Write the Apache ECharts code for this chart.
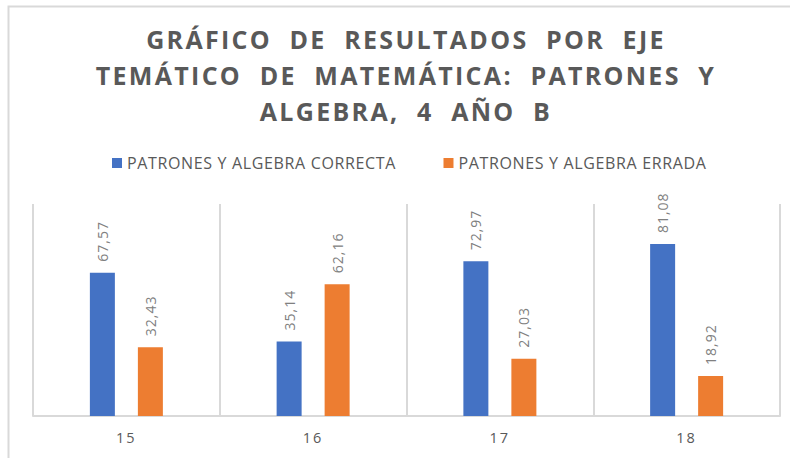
<!DOCTYPE html>
<html>
<head>
<meta charset="utf-8">
<script src="https://cdn.jsdelivr.net/npm/echarts@6/dist/echarts.min.js"></script>
<style>
html,body{margin:0;padding:0;background:#fff;}
#c{width:790px;height:458px;}
#c text[style*="25px"]{letter-spacing:2.3px;}
#c text[style*="14.5px"]{letter-spacing:2px;}
#c text[style*="16px"]{letter-spacing:0.65px;}
#c text[style*="14px"]{letter-spacing:1px;}
</style>
</head>
<body>
<div id="c"></div>
<script>
const titleText = 'GRÁFICO  DE  RESULTADOS  POR  EJE\nTEMÁTICO  DE  MATEMÁTICA:  PATRONES  Y\nALGEBRA,  4  AÑO  B';
const categories = ['15', '16', '17', '18'];
const seriesNames = ['PATRONES Y ALGEBRA CORRECTA', 'PATRONES Y ALGEBRA ERRADA'];
const correcta = [67.57, 35.14, 72.97, 81.08];
const errada = [32.43, 62.16, 27.03, 18.92];
const colors = ['#4472C4', '#ED7D31'];

const chart = echarts.init(document.getElementById('c'), null, {renderer: 'svg'});
const labelCfg = {
  show: true,
  position: 'top',
  rotate: 90,
  align: 'left',
  verticalAlign: 'middle',
  distance: 11,
  color: '#808080',
  fontFamily: 'Open Sans',
  fontSize: 14,
  formatter: p => p.value.toFixed(2).replace('.', ',')
};
chart.setOption({
  animation: false,
  backgroundColor: '#fff',
  graphic: [{
    type: 'rect', silent: true, z: -10,
    shape: {x: 8.5, y: 6.5, width: 800, height: 500},
    style: {fill: 'none', stroke: '#d9d9d9', lineWidth: 2}
  }],
  title: {
    text: titleText,
    left: 401,
    top: 16,
    textAlign: 'center',
    textStyle: {
      fontFamily: 'Open Sans', fontWeight: 'bold', fontSize: 25,
      color: '#595959', lineHeight: 36
    }
  },
  legend: {
    top: 155,
    left: 112,
    padding: 0,
    itemWidth: 10, itemHeight: 10, itemGap: 65,
    icon: 'rect',
    textStyle: {fontFamily: 'Open Sans', fontSize: 16, color: '#595959'},
    data: seriesNames
  },
  grid: {left: 33, right: 10, top: 204, bottom: 42, containLabel: false},
  xAxis: {
    type: 'category',
    data: categories,
    axisLine: {lineStyle: {color: '#d9d9d9', width: 2}},
    axisTick: {show: false},
    splitLine: {show: true, lineStyle: {color: '#d9d9d9', width: 2}},
    axisLabel: {fontFamily: 'Open Sans', fontSize: 14.5, color: '#595959', margin: 14}
  },
  yAxis: {type: 'value', min: 0, max: 100, show: false, splitLine: {show: false}},
  series: [
    {name: seriesNames[0], type: 'bar', data: correcta, barWidth: 25, barGap: '92%',
     itemStyle: {color: colors[0]}, label: labelCfg},
    {name: seriesNames[1], type: 'bar', data: errada, barWidth: 25, barGap: '92%',
     itemStyle: {color: colors[1]}, label: labelCfg}
  ]
});
</script>
</body>
</html>
